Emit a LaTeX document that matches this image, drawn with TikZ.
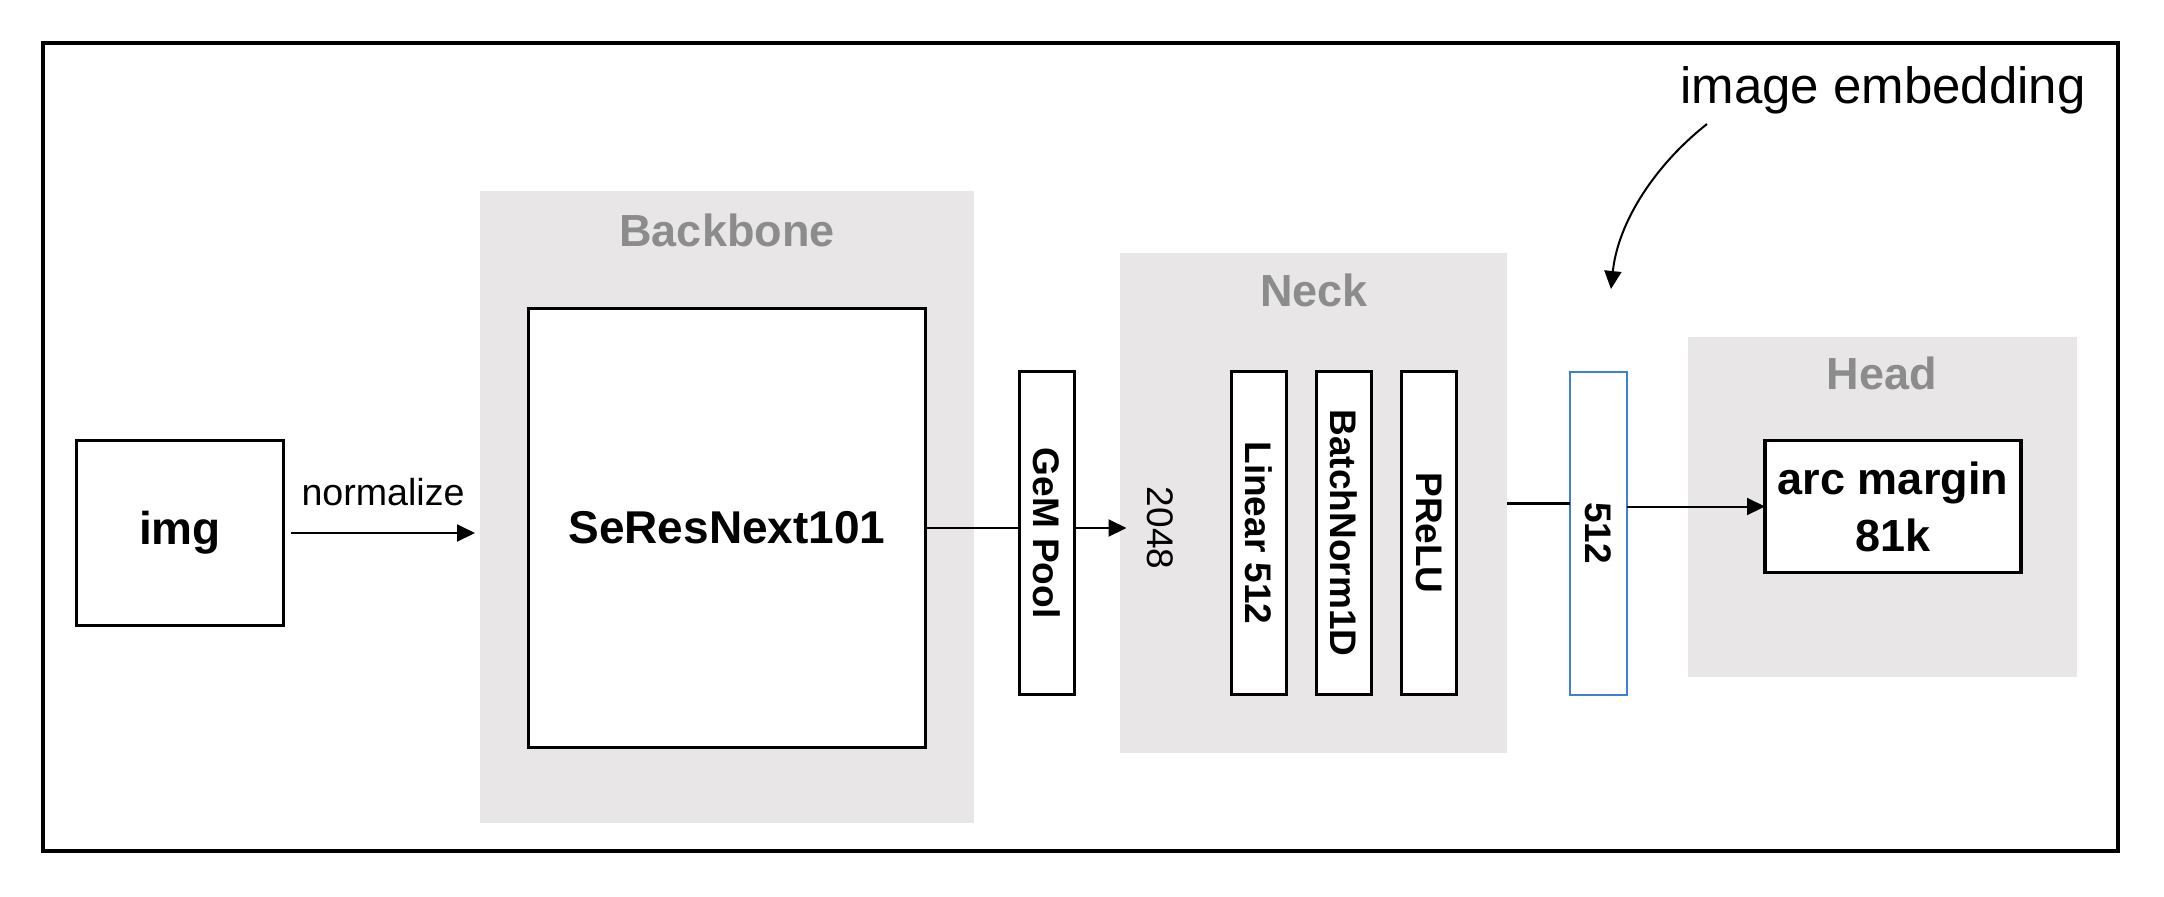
\documentclass[tikz,border=0pt]{standalone}
\usepackage{fontspec}
\setmainfont{Liberation Sans}
\usetikzlibrary{arrows.meta,calc}
\definecolor{grpfill}{HTML}{E8E6E7}
\definecolor{grptext}{HTML}{8C8C8C}
\definecolor{embblue}{HTML}{3D7FD9}
\begin{document}
\begin{tikzpicture}[x=0.5pt,y=-0.5pt,
  grp/.style={fill=grpfill, draw=none, inner sep=0pt, outer sep=0pt},
  grplabel/.style={text=grptext, font=\bfseries\fontsize{22.5}{27}\selectfont, anchor=base, inner sep=0pt},
  blk/.style={draw=black, line width=1.75pt, fill=white, inner sep=0pt, outer sep=0pt, font=\bfseries\fontsize{23}{28}\selectfont},
  vblk/.style={draw=black, line width=1.75pt, fill=white, inner sep=0pt, outer sep=0pt, minimum width=27.5pt, minimum height=161.5pt, font=\bfseries\fontsize{18.5}{22}\selectfont},
  conn/.style={line width=1pt},
  arr/.style={line width=1pt, -{Triangle[length=9pt,width=8.5pt]}},
]
\useasboundingbox (0,0) rectangle (2164,896);
\fill[white] (0,0) rectangle (2164,896);
\node[draw=black, line width=2pt, minimum width=1037.5pt, minimum height=404pt, inner sep=0pt] (frame) at (1080.5,447) {};

\node[grp, minimum width=247pt, minimum height=316pt] (backbone) at (727,507) {};
\node[grplabel] (backbonelbl) at (727,246) {Backbone};
\node[grp, minimum width=193.5pt, minimum height=250pt] (neck) at (1313.5,503) {};
\node[grplabel] (necklbl) at (1314,306) {Neck};
\node[grp, minimum width=194.5pt, minimum height=170pt] (head) at (1882.5,507) {};
\node[grplabel] (headlbl) at (1882,389) {Head};

\node[blk, minimum width=103.5pt, minimum height=92.5pt] (img) at (180,533) {img};
\node[blk, minimum width=198.5pt, minimum height=219.5pt] (res) at (727,528) {SeResNext101};
\node[vblk] (gem) at (1047,533) {\rotatebox{-90}{GeM Pool}};
\node[vblk] (lin) at (1259,533) {\rotatebox{-90}{Linear 512}};
\node[vblk] (bn) at (1344,533) {\rotatebox{-90}{BatchNorm1D}};
\node[vblk] (prelu) at (1429,533) {\rotatebox{-90}{PReLU}};
\node[vblk, draw=embblue, line width=1pt, minimum width=28.5pt] (b512) at (1598,533) {\rotatebox{-90}{512}};
\node[blk, minimum width=128pt, minimum height=66pt, align=center, font=\bfseries\fontsize{22.5}{28.5}\selectfont] (arc) at (1893,506.5) {arc margin\\81k};
\node[font=\fontsize{18.5}{22}\selectfont, inner sep=10pt] (d2048) at (1160,528) {\rotatebox{-90}{2048}};
\node[font=\fontsize{18.8}{22}\selectfont, anchor=base, inner sep=0pt] (normlbl) at (383,505) {normalize};
\node[font=\fontsize{25.5}{30}\selectfont, anchor=base, inner sep=0pt] (emb) at (1883,103) {image embedding};

\draw[arr, shorten <=3.5pt, shorten >=2.5pt] (img.east) -- (img.east -| backbone.west);
\draw[conn] (res.east) -- (res.east -| gem.west);
\draw[arr] (gem.east |- d2048.west) -- (d2048.west);
\draw[line width=1.5pt] (neck.east) -- (neck.east -| b512.west);
\draw[arr] (arc.west -| b512.east) -- (arc.west);
\coordinate (embstart) at (1707,124);
\coordinate (embend) at (1611,289);
\draw[arr] (embstart) .. controls (1655,165) and (1618,222) .. (embend);
\end{tikzpicture}
\end{document}
